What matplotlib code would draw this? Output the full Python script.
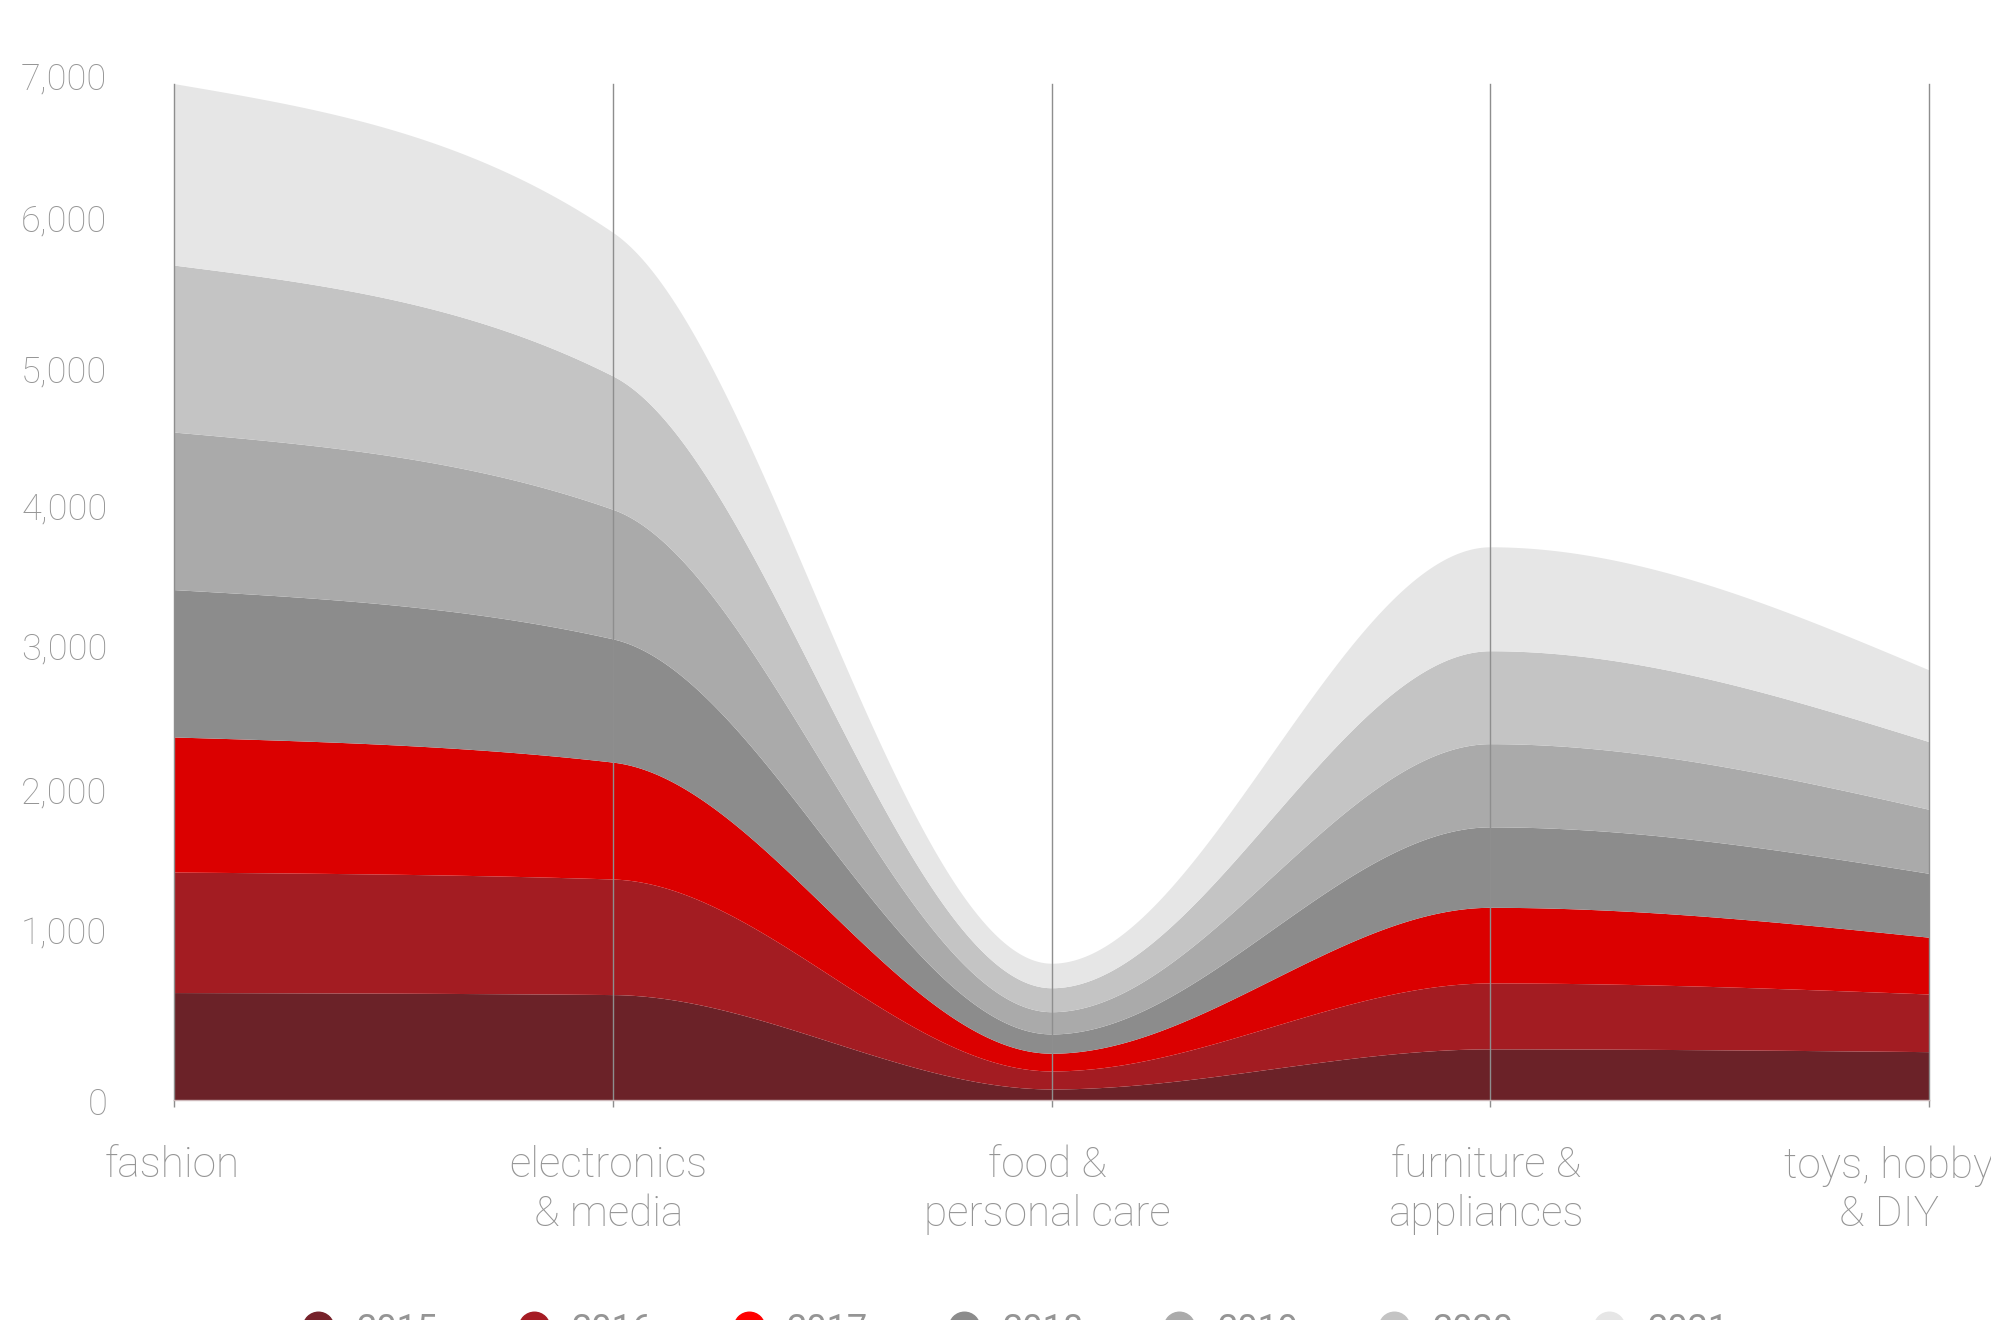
import numpy as np
import matplotlib
matplotlib.use("Agg")
import matplotlib.pyplot as plt
import matplotlib.transforms as mtransforms
from matplotlib.lines import Line2D

plt.rcParams['font.family'] = ['Roboto', 'DejaVu Sans']

categories = ["fashion", "electronics\n& media", "food &\npersonal care",
              "furniture &\nappliances", "toys, hobby\n& DIY"]
years = ["2015", "2016", "2017", "2018", "2019", "2020", "2021"]

v2015 = [740, 726, 76, 352, 333]
v2016 = [830, 796, 124, 454, 397]
v2017 = [930, 805, 122, 521, 391]
v2018 = [1015, 849, 133, 554, 440]
v2019 = [1085, 892, 153, 573, 441]
v2020 = [1150, 919, 165, 640, 466]
v2021 = [1250, 989, 169, 716, 494]

y_ticks = [0, 1000, 2000, 3000, 4000, 5000, 6000, 7000]

area_colors = ["#6B2228", "#A31C22", "#DB0000", "#8C8C8C", "#AAAAAA", "#C4C4C4", "#E6E6E6"]
legend_colors = ["#76212A", "#A51C24", "#FF0000", "#8C8C8C", "#ABABAB", "#C4C4C4", "#E6E6E6"]
text_color = "#959595"


def monotone_x(xs, ys, n=600):
    """Monotone cubic interpolation (same tangents as d3.curveMonotoneX)."""
    xs = np.asarray(xs, float)
    ys = np.asarray(ys, float)
    h = np.diff(xs)
    s = np.diff(ys) / h
    t = np.zeros_like(ys)
    for i in range(1, len(xs) - 1):
        p = (s[i - 1] * h[i] + s[i] * h[i - 1]) / (h[i - 1] + h[i])
        t[i] = (np.sign(s[i - 1]) + np.sign(s[i])) * min(abs(s[i - 1]), abs(s[i]), 0.5 * abs(p))
    t[0] = (3 * s[0] - t[1]) / 2
    t[-1] = (3 * s[-1] - t[-2]) / 2
    xd = np.linspace(xs[0], xs[-1], n)
    idx = np.clip(np.searchsorted(xs, xd, side="right") - 1, 0, len(xs) - 2)
    hh = h[idx]
    u = (xd - xs[idx]) / hh
    h00 = 2 * u**3 - 3 * u**2 + 1
    h10 = u**3 - 2 * u**2 + u
    h01 = -2 * u**3 + 3 * u**2
    h11 = u**3 - u**2
    yd = h00 * ys[idx] + h10 * hh * t[idx] + h01 * ys[idx + 1] + h11 * hh * t[idx + 1]
    return xd, yd


series = [v2015, v2016, v2017, v2018, v2019, v2020, v2021]
x = np.arange(len(categories))
cum = np.cumsum(np.array(series, float), axis=0)

fig = plt.figure(figsize=(19.91, 13.20), dpi=100)
ax = fig.add_axes([174 / 1991, 220 / 1320, (1929 - 174) / 1991, (1100 - 83.6) / 1320])

lower = None
for i, top in enumerate(cum):
    xd, yd = monotone_x(x, top)
    base = np.zeros_like(yd) if lower is None else lower
    ax.fill_between(xd, base, yd, color=area_colors[i], linewidth=0, zorder=2)
    lower = yd

ax.set_xlim(x[0], x[-1])
ax.set_ylim(0, 7000)

# vertical category guides
ax.set_xticks(x)
ax.set_xticklabels(categories, fontsize=30.5, color=text_color, fontweight="light",
                   linespacing=1.236)
ax.grid(axis="x", color="#8E8E8E", linewidth=1.0)
for gl in ax.get_xgridlines():
    gl.set_clip_on(False)
ax.set_axisbelow(False)
ax.tick_params(axis="x", length=5, width=1.0, color="#8E8E8E", pad=27.5)

ax.set_yticks(y_ticks)
ax.set_yticklabels([f"{v:,}" for v in y_ticks], fontsize=26, color=text_color,
                   fontweight="light")
ax.tick_params(axis="y", length=0, pad=48)

for sp in ["top", "right", "left"]:
    ax.spines[sp].set_visible(False)
ax.spines["bottom"].set_color("#CDB8BA")
ax.spines["bottom"].set_linewidth(1.0)
ax.spines["bottom"].set_zorder(3)

# small vertical nudges of the value labels
label_shift_px = {0: -1, 1000: 24, 2000: 20, 3000: 19, 4000: 14, 5000: 6, 6000: 11, 7000: 8}
for val, lab in zip(y_ticks, ax.get_yticklabels()):
    off = mtransforms.ScaledTranslation(0, label_shift_px[val] / 100, fig.dpi_scale_trans)
    lab.set_transform(lab.get_transform() + off)

# horizontal nudges of the category labels (the last one sits left of its guide)
cat_shift_px = [-2, -4, -4, -4, -40]
for dx, lab in zip(cat_shift_px, ax.get_xticklabels()):
    lab.set_transform(lab.get_transform() +
                      mtransforms.ScaledTranslation(dx / 100, 0, fig.dpi_scale_trans))

handles = [Line2D([], [], linestyle="none", marker="o", markersize=22,
                  markerfacecolor=c, markeredgecolor=c) for c in legend_colors]
fig.legend(handles, years, loc="center", bbox_to_anchor=(0.5095, -0.0075), ncol=7,
           frameon=False, fontsize=26, labelcolor=text_color, handlelength=1.0,
           handletextpad=0.55, columnspacing=2.16, borderpad=0)

fig.savefig("out.png", dpi=100)
